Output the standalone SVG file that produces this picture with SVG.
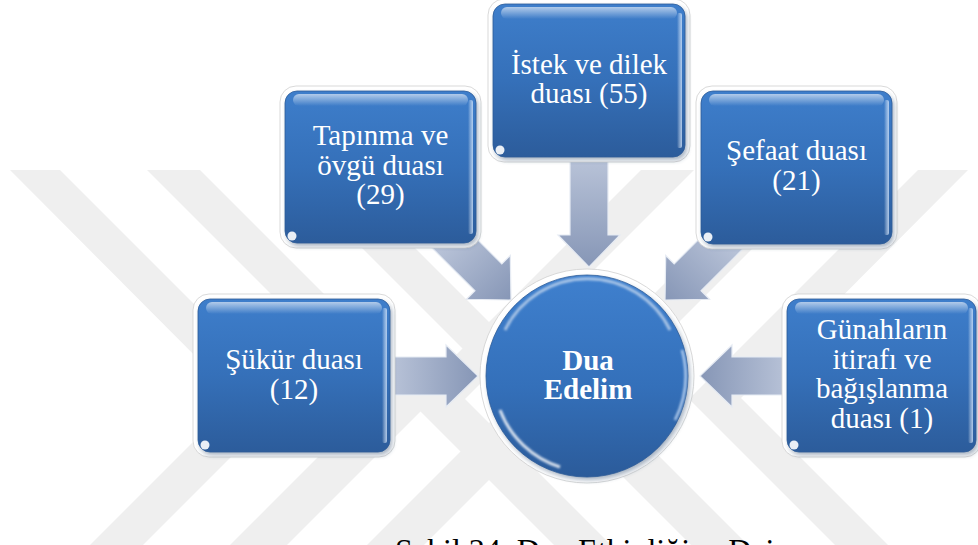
<svg xmlns="http://www.w3.org/2000/svg" width="978" height="545" viewBox="0 0 978 545">
<defs>
  <linearGradient id="boxGrad" x1="0" y1="0" x2="0" y2="1">
    <stop offset="0" stop-color="#3e7ecb"/>
    <stop offset="0.5" stop-color="#3570b9"/>
    <stop offset="1" stop-color="#2c5c9b"/>
  </linearGradient>
  <linearGradient id="gloss" x1="0" y1="0" x2="0" y2="1">
    <stop offset="0" stop-color="#ffffff" stop-opacity="0.6"/>
    <stop offset="1" stop-color="#ffffff" stop-opacity="0"/>
  </linearGradient>
  <linearGradient id="edgeGrad" x1="0" y1="0" x2="1" y2="0">
    <stop offset="0" stop-color="#ffffff" stop-opacity="0"/>
    <stop offset="1" stop-color="#cfe2fa" stop-opacity="0.8"/>
  </linearGradient>
  <linearGradient id="arrowGrad" x1="0" y1="0" x2="1" y2="0">
    <stop offset="0" stop-color="#bdc7db"/>
    <stop offset="1" stop-color="#8696b6"/>
  </linearGradient>
  <linearGradient id="circGrad" x1="0" y1="0" x2="0" y2="1">
    <stop offset="0" stop-color="#3f80ce"/>
    <stop offset="0.55" stop-color="#3470ba"/>
    <stop offset="1" stop-color="#2b5b9a"/>
  </linearGradient>
  <filter id="blur" x="-20%" y="-20%" width="140%" height="140%">
    <feGaussianBlur stdDeviation="2.5"/>
  </filter>
  <filter id="soft" x="-20%" y="-20%" width="140%" height="140%">
    <feGaussianBlur stdDeviation="1"/>
  </filter>
</defs>
<style>
  .wm { fill: #efefef; }
  .halo { fill: #ffffff; stroke: #cfcfcf; stroke-width: 0.8; }
  .shd { fill: #1d3a62; opacity: 0.4; filter: url(#blur); }
  .box { fill: url(#boxGrad); stroke: #2d5c98; stroke-width: 0.8; }
  .gloss { fill: url(#gloss); }
  .edge { fill: url(#edgeGrad); }
  .dot { fill: #ffffff; opacity: 0.9; }
  .arrow { fill: url(#arrowGrad); stroke: #e6ebf3; stroke-width: 1.2; stroke-linejoin: miter; }
  .lbl { font-family: "Liberation Serif", "Times New Roman", serif; font-size: 29px; fill: #ffffff; text-anchor: middle; }
  .bold { font-weight: bold; }
  .cap { font-family: "Liberation Serif", "Times New Roman", serif; font-size: 32px; fill: #000000; }
</style>

<rect x="0" y="0" width="978" height="545" fill="#ffffff"/>

<g id="watermark">
  <polygon class="wm" points="10,170 60,170 289,399 88,600 35,600 237,398"/>
  <polygon class="wm" points="147,170 200,170 431,401 232,600 175,600 376,399"/>
  <polygon class="wm" points="284,170 337,170 568,401 369,600 312,600 513,399"/>
  <polygon class="wm" points="968,170 918,170 689,399 890,600 943,600 741,398"/>
  <polygon class="wm" points="831,170 778,170 547,401 746,600 803,600 602,399"/>
  <polygon class="wm" points="694,170 641,170 410,401 609,600 666,600 465,399"/>
</g>

<g id="connectors">
  <path class="arrow" transform="translate(478,376)" d="M-95,-19 L-32,-19 L-32,-31 L0,0 L-32,31 L-32,19 L-95,19 Z"/>
  <path class="arrow" transform="translate(700,376) rotate(180)" d="M-96,-19 L-32,-19 L-32,-31 L0,0 L-32,31 L-32,19 L-96,19 Z"/>
  <path class="arrow" transform="translate(589,267) rotate(90)" d="M-118,-19 L-32,-19 L-32,-31 L0,0 L-32,31 L-32,19 L-118,19 Z"/>
  <path class="arrow" transform="translate(511,300) rotate(45)" d="M-95,-19 L-32,-19 L-32,-31 L0,0 L-32,31 L-32,19 L-95,19 Z"/>
  <path class="arrow" transform="translate(665,300) rotate(135)" d="M-95,-19 L-32,-19 L-32,-31 L0,0 L-32,31 L-32,19 L-95,19 Z"/>
</g>

<g id="node-center">
  <circle class="halo" cx="587" cy="376" r="107"/>
  <circle class="shd" cx="589" cy="379" r="101"/>
  <circle cx="587" cy="376" r="101" fill="url(#circGrad)" stroke="#2d5c98" stroke-width="0.8"/>
  <path d="M505,330 A92,92 0 0 1 670,330" fill="none" stroke="#ffffff" stroke-opacity="0.55" stroke-width="3" filter="url(#soft)"/>
  <path d="M500,410 A95,95 0 0 0 560,467" fill="none" stroke="#ffffff" stroke-opacity="0.8" stroke-width="3" filter="url(#soft)"/>
  <path d="M682,350 A98,98 0 0 1 675,420" fill="none" stroke="#cfe2fa" stroke-opacity="0.8" stroke-width="2.5" filter="url(#soft)"/>
  <text class="lbl bold" x="588" y="370">Dua</text>
  <text class="lbl bold" x="588" y="399">Edelim</text>
</g>

<g id="node-tapinma">
  <rect class="halo" x="280" y="86" width="201" height="162" rx="16"/>
  <rect class="shd" x="287" y="94" width="191" height="152" rx="12"/>
  <rect class="box" x="285" y="91" width="191" height="152" rx="12"/>
  <rect class="gloss" x="293" y="94" width="175" height="12" rx="6"/>
  <rect class="edge" x="468" y="100" width="5" height="134" rx="2"/>
  <circle class="dot" cx="292" cy="236" r="4.5"/>
  <text class="lbl" x="380.5" y="145">Tapınma ve</text>
  <text class="lbl" x="380.5" y="174.5">övgü duası</text>
  <text class="lbl" x="380.5" y="204">(29)</text>
</g>

<g id="node-istek">
  <rect class="halo" x="488" y="-1" width="202" height="163" rx="16"/>
  <rect class="shd" x="495" y="7" width="192" height="153" rx="12"/>
  <rect class="box" x="493" y="4" width="192" height="153" rx="12"/>
  <rect class="gloss" x="501" y="7" width="176" height="12" rx="6"/>
  <rect class="edge" x="677" y="13" width="5" height="135" rx="2"/>
  <circle class="dot" cx="500" cy="150" r="4.5"/>
  <text class="lbl" x="589" y="74">İstek ve dilek</text>
  <text class="lbl" x="589" y="103">duası (55)</text>
</g>

<g id="node-sefaat">
  <rect class="halo" x="696" y="86" width="201" height="163" rx="16"/>
  <rect class="shd" x="703" y="94" width="191" height="153" rx="12"/>
  <rect class="box" x="701" y="91" width="191" height="153" rx="12"/>
  <rect class="gloss" x="709" y="94" width="175" height="12" rx="6"/>
  <rect class="edge" x="884" y="100" width="5" height="135" rx="2"/>
  <circle class="dot" cx="708" cy="237" r="4.5"/>
  <text class="lbl" x="796.5" y="160">Şefaat duası</text>
  <text class="lbl" x="796.5" y="189.5">(21)</text>
</g>

<g id="node-sukur">
  <rect class="halo" x="193" y="294" width="202" height="163" rx="16"/>
  <rect class="shd" x="200" y="302" width="192" height="153" rx="12"/>
  <rect class="box" x="198" y="299" width="192" height="153" rx="12"/>
  <rect class="gloss" x="206" y="302" width="176" height="12" rx="6"/>
  <rect class="edge" x="382" y="308" width="5" height="135" rx="2"/>
  <circle class="dot" cx="205" cy="445" r="4.5"/>
  <text class="lbl" x="294" y="369">Şükür duası</text>
  <text class="lbl" x="294" y="399">(12)</text>
</g>

<g id="node-gunah">
  <rect class="halo" x="782" y="294" width="199" height="163" rx="16"/>
  <rect class="shd" x="789" y="302" width="189" height="153" rx="12"/>
  <rect class="box" x="787" y="299" width="189" height="153" rx="12"/>
  <rect class="gloss" x="795" y="302" width="173" height="12" rx="6"/>
  <rect class="edge" x="968" y="308" width="5" height="135" rx="2"/>
  <circle class="dot" cx="794" cy="445" r="4.5"/>
  <text class="lbl" x="882" y="339">Günahların</text>
  <text class="lbl" x="882" y="368.5">itirafı ve</text>
  <text class="lbl" x="882" y="398">bağışlanma</text>
  <text class="lbl" x="882" y="427.5">duası (1)</text>
</g>

<text class="cap" x="395" y="561">Şekil 34. Dua Etkinliğine Dair</text>
</svg>
